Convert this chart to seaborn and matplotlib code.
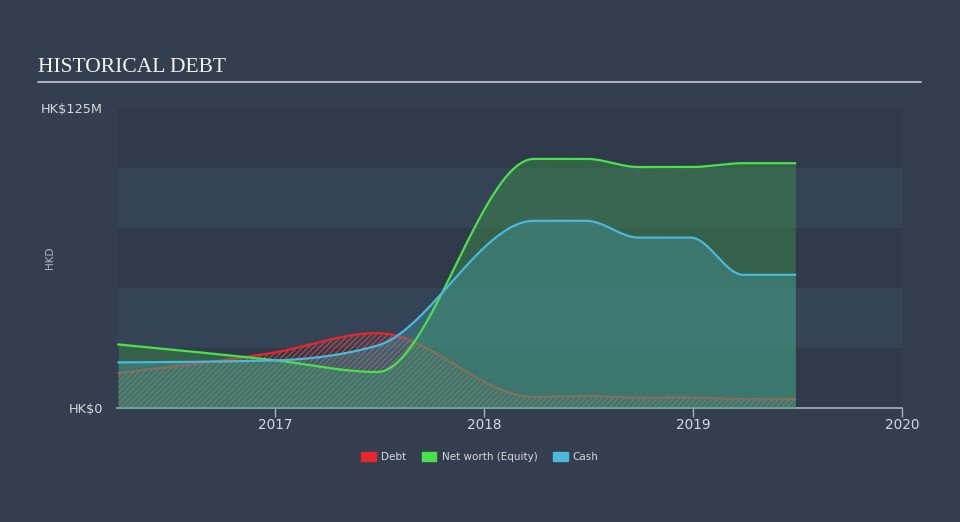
import numpy as np
import pandas as pd
import seaborn as sns
import matplotlib.pyplot as plt
from matplotlib.patches import Patch

# Values (HK$ millions), dates in decimal years
dates = [2016.25, 2016.99, 2017.49, 2018.24, 2018.49, 2018.74, 2018.99, 2019.24, 2019.49]
debt = [14.6, 23.0, 31.2, 4.6, 5.0, 4.3, 4.4, 3.6, 3.75]
equity = [26.5, 20.0, 15.0, 103.8, 103.8, 100.4, 100.4, 102.0, 102.0]
cash = [19.0, 19.8, 26.0, 78.0, 78.0, 71.0, 71.0, 55.5, 55.5]
year_ticks = [2017, 2018, 2019, 2020]

BG = '#333F4F'
BAND_DARK = '#2F3B4B'
BAND_LIGHT = '#344456'
TXT = '#D3D8DE'
RED = '#E8262B'
GREEN = '#4CE04C'
BLUE = '#4BB8DC'


def monotone_curve(x, y, n=60):
    # monotone cubic (like d3 curveMonotoneX) used only to draw smooth lines
    x = np.asarray(x, float)
    y = np.asarray(y, float)
    h = np.diff(x)
    s = np.diff(y) / h
    m = np.zeros(len(x))
    for i in range(1, len(x) - 1):
        if s[i - 1] * s[i] <= 0:
            m[i] = 0.0
        else:
            p = (s[i - 1] * h[i] + s[i] * h[i - 1]) / (h[i - 1] + h[i])
            m[i] = np.sign(s[i - 1]) * min(abs(s[i - 1]), abs(s[i]), 0.5 * abs(p)) * 2
    m[0] = (3 * s[0] - m[1]) / 2
    m[-1] = (3 * s[-1] - m[-2]) / 2
    xs, ys = [], []
    for i in range(len(x) - 1):
        t = np.linspace(0, 1, n, endpoint=(i == len(x) - 2))
        h00 = 2 * t**3 - 3 * t**2 + 1
        h10 = t**3 - 2 * t**2 + t
        h01 = -2 * t**3 + 3 * t**2
        h11 = t**3 - t**2
        xs.append(x[i] + t * h[i])
        ys.append(h00 * y[i] + h10 * h[i] * m[i] + h01 * y[i + 1] + h11 * h[i] * m[i + 1])
    return np.concatenate(xs), np.concatenate(ys)


sns.set_theme(style='dark')
plt.rcParams['font.family'] = ['DejaVu Sans']
plt.rcParams['hatch.linewidth'] = 0.8

fig = plt.figure(figsize=(9.6, 5.22), dpi=100, facecolor=BG)
ax = fig.add_axes([117 / 960, 1 - 408 / 522, 785 / 960, 300 / 522])
ax.set_facecolor(BG)

# banded background
for i, lo in enumerate(range(0, 125, 25)):
    ax.axhspan(lo, lo + 25, color=BAND_DARK if i % 2 == 0 else BAND_LIGHT, lw=0, zorder=0)

xd, yd = monotone_curve(dates, debt)
xe, ye = monotone_curve(dates, equity)
xc, yc = monotone_curve(dates, cash)
curves = pd.DataFrame({'date': xd, 'Debt': yd, 'Equity': ye, 'Cash': yc})

# debt: hatched area + line, below the others
ax.fill_between(curves['date'], 0, curves['Debt'], facecolor='none', edgecolor='#F0453F',
                hatch='//////', linewidth=0, alpha=0.8, zorder=1)
sns.lineplot(data=curves, x='date', y='Debt', color=RED, lw=1.6, ax=ax, zorder=2)

ax.fill_between(curves['date'], 0, curves['Equity'], color='#3F9E4A', alpha=0.38, lw=0, zorder=3)
ax.fill_between(curves['date'], 0, curves['Cash'], color='#46A0AA', alpha=0.36, lw=0, zorder=4)
sns.lineplot(data=curves, x='date', y='Equity', color=GREEN, lw=1.6, ax=ax, zorder=5)
sns.lineplot(data=curves, x='date', y='Cash', color=BLUE, lw=1.6, ax=ax, zorder=6)

ax.set_xlim(2016.245, 2020.0)
ax.set_ylim(0, 125)
ax.set_xticks(year_ticks)
ax.set_xticklabels([str(y) for y in year_ticks])
ax.set_yticks([0, 125])
ax.set_yticklabels(['HK$0', 'HK$125M'])
ax.tick_params(axis='x', colors='#A9B2BD', labelcolor=TXT, labelsize=9.8,
               direction='out', length=6.5, width=1, bottom=True, pad=1)
ax.tick_params(axis='y', colors=TXT, labelsize=9.3, length=0, pad=10)
ax.set_xlabel('')
ax.set_ylabel('')
for side in ['top', 'right', 'left']:
    ax.spines[side].set_visible(False)
ax.spines['bottom'].set_color('#A9B2BD')
ax.spines['bottom'].set_linewidth(1.2)
ax.grid(False)

fig.text(50 / 960, 1 - 258 / 522, 'HKD', rotation=90, color='#AEB6C0', fontsize=7.5,
         ha='center', va='center')

# title with rule
fig.text(38 / 960, 1 - 67 / 522, 'HISTORICAL DEBT', family='Liberation Serif',
         fontsize=15.5, color='#F2F2F2', va='center', ha='left')
fig.add_artist(plt.Line2D([38 / 960, 921 / 960], [1 - 82 / 522] * 2,
                          color='#B8BEC6', lw=1.3))

handles = [Patch(color=RED, label='Debt'),
           Patch(color=GREEN, label='Net worth (Equity)'),
           Patch(color=BLUE, label='Cash')]
leg = fig.legend(handles=handles, loc='center', bbox_to_anchor=(0.5, 1 - 457 / 522),
                 ncol=3, frameon=False, fontsize=7.5, handlelength=1.4, handleheight=1.0,
                 columnspacing=1.5, handletextpad=0.5)
for t in leg.get_texts():
    t.set_color(TXT)

fig.savefig('out.png', dpi=100, facecolor=BG)
